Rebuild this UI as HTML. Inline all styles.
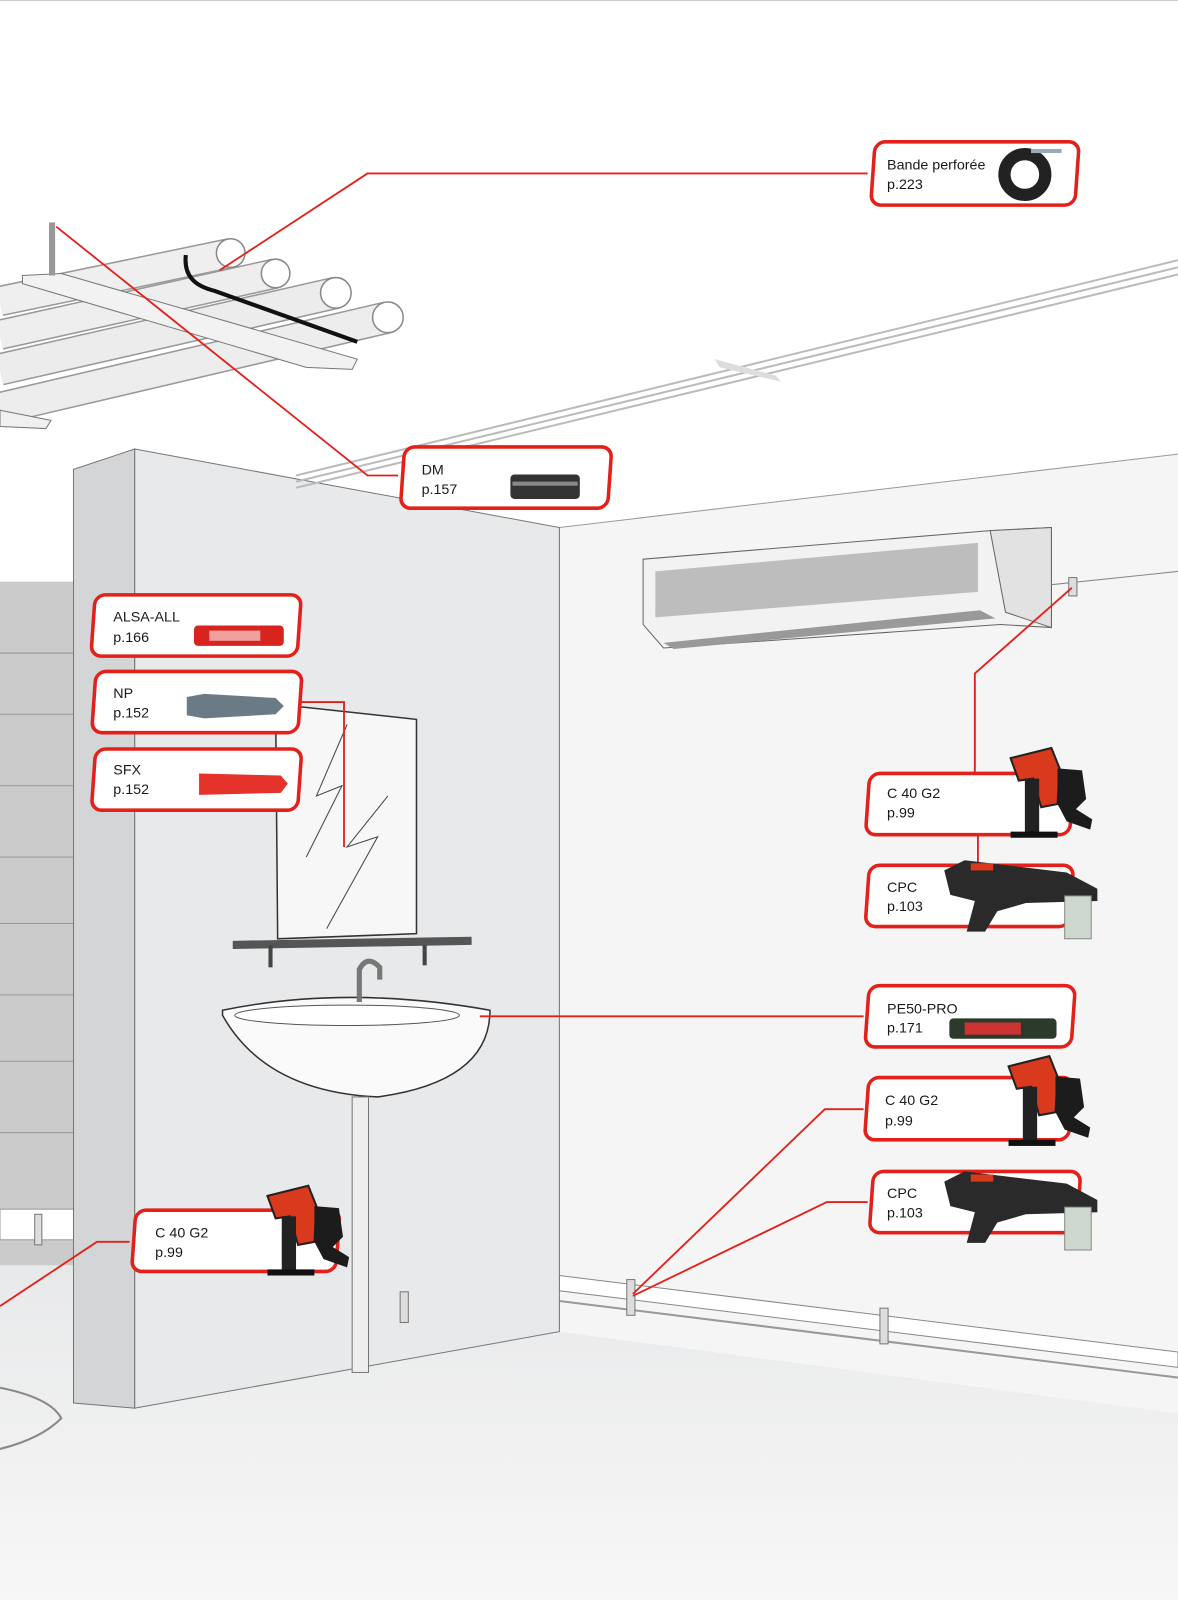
<!DOCTYPE html>
<html><head><meta charset="utf-8">
<style>
html,body{margin:0;padding:0;background:#fff;}
svg{display:block;}
text{font-family:"Liberation Sans",sans-serif;font-size:14px;fill:#1a1a1a;}
</style></head>
<body>
<svg width="1178" height="1600" viewBox="0 0 1154 1568" preserveAspectRatio="none" xmlns="http://www.w3.org/2000/svg">
<defs>
<linearGradient id="floor" x1="0" y1="0" x2="0" y2="1">
<stop offset="0" stop-color="#e8e9ea"/><stop offset="1" stop-color="#f7f7f7"/>
</linearGradient>
<g id="gun">
<path d="M0,10 L40,0 L48,20 L46,55 L30,58 L22,30 L8,32 Z" fill="#d93a1e" stroke="#222" stroke-width="2"/>
<path d="M46,20 L70,22 L74,50 L64,60 L80,70 L78,80 L55,72 L46,55 Z" fill="#1c1c1c"/>
<rect x="14" y="30" width="14" height="56" fill="#222"/>
<rect x="0" y="82" width="46" height="6" fill="#111"/>
</g>
<g id="cpc">
<path d="M0,10 L20,0 L120,12 L150,28 L150,40 L80,42 L52,50 L40,70 L22,70 L30,40 L6,34 Z" fill="#2a2a2a"/>
<rect x="26" y="3" width="22" height="7" fill="#d93a1e"/>
<rect x="118" y="35" width="26" height="42" fill="#cfd8cf" stroke="#888"/>
</g>
</defs>

<line x1="0" y1="0.5" x2="1154" y2="0.5" stroke="#ccc"/>
<!-- floor -->
<polygon points="0,1240 72,1240 72,1375 132,1380 548,1305 1154,1385 1154,1568 0,1568" fill="url(#floor)"/>
<!-- right wall -->
<polygon points="548,517 1154,445 1154,1385 548,1305" fill="#f5f5f5"/>
<line x1="548" y1="517" x2="1154" y2="445" stroke="#999"/>
<!-- skirting right -->
<polygon points="548,1250 1154,1325 1154,1340 548,1265" fill="#fff" stroke="#888"/>
<line x1="548" y1="1275" x2="1154" y2="1350" stroke="#999" stroke-width="2"/>
<line x1="360" y1="1270" x2="548" y2="1258" stroke="#888"/>
<line x1="360" y1="1292" x2="548" y2="1280" stroke="#888"/>
<!-- left brick wall -->
<rect x="0" y="570" width="72" height="670" fill="#cbcbcb"/>
<g stroke="#999" stroke-width="1">
<line x1="0" y1="640" x2="72" y2="640"/><line x1="0" y1="700" x2="72" y2="700"/>
<line x1="0" y1="770" x2="72" y2="770"/><line x1="0" y1="840" x2="72" y2="840"/>
<line x1="0" y1="905" x2="72" y2="905"/><line x1="0" y1="975" x2="72" y2="975"/>
<line x1="0" y1="1040" x2="72" y2="1040"/><line x1="0" y1="1110" x2="72" y2="1110"/>
</g>
<rect x="0" y="1185" width="72" height="30" fill="#fff" stroke="#999"/>
<!-- pillar -->
<polygon points="72,460 132,440 132,1380 72,1375" fill="#d3d5d7" stroke="#777"/>
<polygon points="132,440 548,517 548,1305 132,1380" fill="#e7e9ea" stroke="#777"/>
<!-- ceiling rails -->
<g stroke="#bbb" stroke-width="2">
<line x1="290" y1="466" x2="1154" y2="255"/>
<line x1="290" y1="472" x2="1154" y2="262"/>
<line x1="290" y1="478" x2="1154" y2="269"/>
</g>
<polygon points="700,352 760,368 765,374 705,360" fill="#ddd"/>
<!-- pipes top-left -->
<g stroke-linecap="butt">
<line x1="380" y1="311" x2="0" y2="400" stroke="#999" stroke-width="32"/>
<line x1="380" y1="311" x2="0" y2="400" stroke="#ededed" stroke-width="29"/>
<line x1="329" y1="287" x2="0" y2="362" stroke="#999" stroke-width="32"/>
<line x1="329" y1="287" x2="0" y2="362" stroke="#ececec" stroke-width="29"/>
<line x1="270" y1="268" x2="0" y2="328" stroke="#999" stroke-width="30"/>
<line x1="270" y1="268" x2="0" y2="328" stroke="#eeeeee" stroke-width="27"/>
<line x1="226" y1="248" x2="0" y2="295" stroke="#999" stroke-width="30"/>
<line x1="226" y1="248" x2="0" y2="295" stroke="#efefef" stroke-width="27"/>
</g>
<g fill="#fff" stroke="#888" stroke-width="1.5">
<ellipse cx="226" cy="248" rx="14" ry="14"/><ellipse cx="270" cy="268" rx="14" ry="14"/>
<ellipse cx="329" cy="287" rx="15" ry="15"/><ellipse cx="380" cy="311" rx="15" ry="15"/>
</g>
<path d="M182,250 C180,270 190,280 210,285 L350,335" stroke="#111" stroke-width="4" fill="none"/>
<polygon points="22,270 60,268 350,352 345,362 300,360 22,278" fill="#f2f2f2" stroke="#777"/>
<rect x="48" y="218" width="6" height="52" fill="#999"/>
<polygon points="0,402 50,412 45,420 0,418" fill="#f0f0f0" stroke="#777"/>
<!-- AC unit -->
<polygon points="630,548 970,520 1030,517 1030,615 980,612 650,635 630,612" fill="#f2f2f2" stroke="#666"/>
<polygon points="642,560 958,532 958,580 642,605" fill="#bdbdbd"/>
<polygon points="650,630 960,598 975,606 660,636" fill="#999"/>
<polygon points="970,520 1030,517 1030,615 985,600" fill="#e2e2e2" stroke="#666"/>
<line x1="1030" y1="573" x2="1154" y2="560" stroke="#888"/>
<!-- mirror -->
<polygon points="270,690 408,705 408,915 272,920" fill="#f7f7f7" stroke="#333" stroke-width="1.5"/>
<path d="M340,710 L310,780 L335,770 L300,840" stroke="#444" fill="none"/>
<path d="M380,780 L340,830 L370,820 L320,910" stroke="#444" fill="none"/>
<polygon points="228,922 462,918 462,926 228,930" fill="#555"/>
<rect x="263" y="926" width="4" height="22" fill="#444"/><rect x="414" y="926" width="4" height="20" fill="#444"/>
<!-- sink -->
<path d="M218,990 Q340,965 480,990 Q480,1060 370,1075 Q260,1070 218,995 Z" fill="#fafafa" stroke="#333" stroke-width="1.5"/>
<ellipse cx="340" cy="995" rx="110" ry="10" fill="#fff" stroke="#555"/>
<path d="M352,982 L352,950 Q360,935 372,948 L372,960" stroke="#777" stroke-width="5" fill="none"/>
<rect x="345" y="1075" width="16" height="270" fill="#eee" stroke="#777"/>
<!-- left drain -->
<path d="M0,1360 Q50,1370 60,1390 Q40,1410 0,1420" fill="none" stroke="#888" stroke-width="2"/>
<!-- clips -->
<g fill="#ddd" stroke="#777"><rect x="392" y="1266" width="8" height="30"/><rect x="614" y="1254" width="8" height="35"/><rect x="862" y="1282" width="8" height="35"/><rect x="1047" y="566" width="8" height="18"/><rect x="34" y="1190" width="7" height="30"/></g>

<!-- red connectors -->
<g stroke="#e4201b" stroke-width="1.8" fill="none">
<polyline points="850,170 360,170 215,265"/>
<polyline points="55,222 360,466 390,466"/>
<polyline points="295,688 337,688 337,830"/>
<polyline points="955,757 955,660 1050,576"/>
<line x1="958" y1="818" x2="958" y2="847"/>
<line x1="470" y1="996" x2="846" y2="996"/>
<polyline points="846,1087 808,1087 620,1268"/>
<polyline points="850,1178 810,1178 620,1270"/>
<polyline points="127,1217 95,1217 0,1280"/>
</g>

<!-- labels -->
<g fill="#fff" stroke="#e4201b" stroke-width="3.5">
<rect x="855" y="139" width="200" height="62" rx="10" transform="skewX(-4) translate(12,0)"/>
<rect x="395" y="438" width="203" height="60" rx="10" transform="skewX(-4) translate(32,0)"/>
<rect x="92" y="583" width="202" height="60" rx="10" transform="skewX(-4) translate(42,0)"/>
<rect x="92" y="658" width="202" height="60" rx="10" transform="skewX(-4) translate(48,0)"/>
<rect x="92" y="734" width="202" height="60" rx="10" transform="skewX(-4) translate(53,0)"/>
<rect x="850" y="758" width="200" height="60" rx="10" transform="skewX(-4) translate(55,0)"/>
<rect x="850" y="848" width="200" height="60" rx="10" transform="skewX(-4) translate(61,0)"/>
<rect x="850" y="966" width="202" height="60" rx="10" transform="skewX(-4) translate(69,0)"/>
<rect x="850" y="1056" width="200" height="61" rx="10" transform="skewX(-4) translate(75,0)"/>
<rect x="854" y="1148" width="203" height="60" rx="10" transform="skewX(-4) translate(82,0)"/>
<rect x="131" y="1186" width="200" height="60" rx="10" transform="skewX(-4) translate(85,0)"/>
</g>

<text x="869" y="166">Bande perforée</text><text x="869" y="185">p.223</text>
<text x="413" y="465">DM</text><text x="413" y="484">p.157</text>
<text x="111" y="609">ALSA-ALL</text><text x="111" y="629">p.166</text>
<text x="111" y="684">NP</text><text x="111" y="703">p.152</text>
<text x="111" y="759">SFX</text><text x="111" y="778">p.152</text>
<text x="869" y="782">C 40 G2</text><text x="869" y="801">p.99</text>
<text x="869" y="874">CPC</text><text x="869" y="893">p.103</text>
<text x="869" y="993">PE50-PRO</text><text x="869" y="1012">p.171</text>
<text x="867" y="1083">C 40 G2</text><text x="867" y="1103">p.99</text>
<text x="869" y="1174">CPC</text><text x="869" y="1193">p.103</text>
<text x="152" y="1213">C 40 G2</text><text x="152" y="1232">p.99</text>

<!-- product images -->
<circle cx="1004" cy="171" r="20" fill="none" stroke="#222" stroke-width="12"/>
<rect x="1010" y="146" width="30" height="4" fill="#9ab"/>
<rect x="500" y="465" width="68" height="24" rx="4" fill="#333"/>
<rect x="502" y="472" width="64" height="4" fill="#888"/>
<rect x="190" y="613" width="88" height="20" rx="4" fill="#d9231e"/>
<rect x="205" y="618" width="50" height="10" fill="#f1a0a0"/>
<path d="M183,683 L200,680 L270,684 L278,692 L270,700 L200,704 L183,701 Z" fill="#6b7b86"/>
<path d="M195,758 L275,760 L282,768 L275,777 L195,779 Z" fill="#e5322a"/>
<rect x="930" y="998" width="105" height="20" rx="4" fill="#2c3a2c"/>
<rect x="945" y="1002" width="55" height="12" fill="#c33"/>
<use href="#gun" transform="translate(990,733)"/>
<use href="#cpc" transform="translate(925,843)"/>
<use href="#gun" transform="translate(988,1035)"/>
<use href="#cpc" transform="translate(925,1148)"/>
<use href="#gun" transform="translate(262,1162)"/>
</svg>
</body></html>
